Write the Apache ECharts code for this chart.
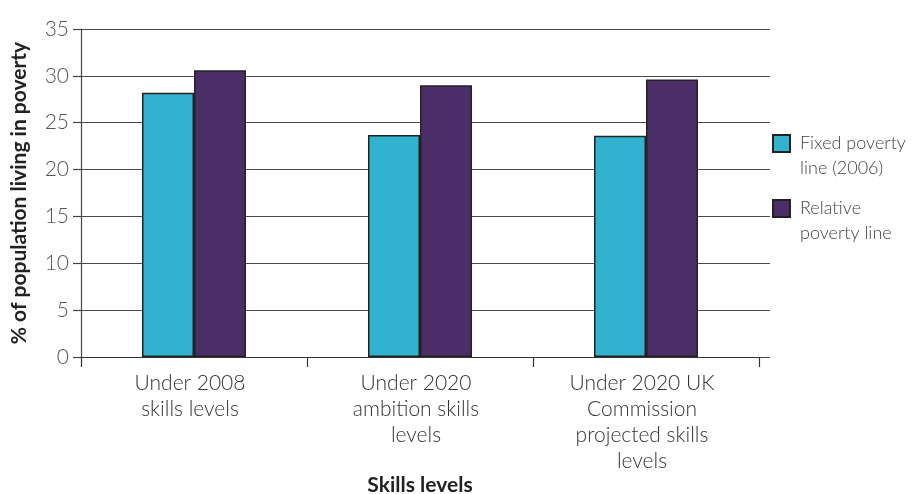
<!DOCTYPE html>
<html>
<head>
<meta charset="utf-8">
<script src="https://cdn.jsdelivr.net/npm/echarts@6/dist/echarts.min.js"></script>
<style>
  html, body { margin: 0; padding: 0; background: #ffffff; }
  #chart { width: 923px; height: 494px; }
</style>
</head>
<body>
<div id="chart"></div>
<script>
// Skill-level scenarios on the category axis
const categories = [
  'Under 2008\nskills levels',
  'Under 2020\nambition skills\nlevels',
  'Under 2020 UK\nCommission\nprojected skills\nlevels'
];
// % of population living in poverty under each poverty line
const fixedPovertyLine = [28.2, 23.7, 23.6];
const relativePovertyLine = [30.6, 29.0, 29.6];
const seriesNames = ['Fixed poverty\nline (2006)', 'Relative\npoverty line'];
// Value axis range
const yMin = 0;
const yMax = 35;
const yStep = 5;

const FONT = 'Lato, "Open Sans", sans-serif';
const chart = echarts.init(document.getElementById('chart'), null, { renderer: 'canvas' });

chart.setOption({
  animation: false,
  backgroundColor: '#ffffff',
  textStyle: { fontFamily: FONT },
  legend: {
    orient: 'vertical',
    left: 767,
    top: 101,
    itemWidth: 17,
    itemHeight: 17,
    itemGap: -10,
    icon: 'rect',
    selectedMode: false,
    data: seriesNames,
    // leading blank line keeps the first text line level with the swatch
    formatter: function (name) { return '\n' + name; },
    textStyle: {
      fontFamily: FONT,
      fontWeight: 300,
      fontSize: 18,
      color: '#444444',
      lineHeight: 25,
      padding: [0, 0, 0, 5]
    }
  },
  grid: [
    // frame carrying the value scale and the full-width gridlines
    { left: 81, right: 153, top: 29, bottom: 137, outerBoundsMode: 'none' },
    // frame carrying the bars and the category axis
    { left: 81, right: 164, top: 29, bottom: 137, outerBoundsMode: 'none' }
  ],
  xAxis: [
    { gridIndex: 0, type: 'value', min: 0, max: 1, show: false },
    {
      gridIndex: 1,
      type: 'category',
      data: categories,
      axisLine: { show: true, lineStyle: { color: '#333333', width: 1.2 } },
      axisTick: { show: true, length: 10, lineStyle: { color: '#333333', width: 1.2 } },
      axisLabel: {
        interval: 0,
        margin: 13,
        fontFamily: FONT,
        fontWeight: 300,
        fontSize: 21,
        lineHeight: 26,
        color: '#333333',
        padding: [0, 8, 0, 0]
      },
      name: 'Skills levels',
      nameLocation: 'middle',
      nameGap: 118,
      nameMoveOverlap: false,
      nameTextStyle: { fontFamily: FONT, fontWeight: 'bold', fontSize: 21, color: '#222222' }
    }
  ],
  yAxis: [
    {
      gridIndex: 0,
      type: 'value',
      min: yMin,
      max: yMax,
      interval: yStep,
      axisLine: { show: true, lineStyle: { color: '#444444', width: 1.2 } },
      axisTick: { show: true, length: 8, lineStyle: { color: '#444444', width: 1.2 } },
      splitLine: { show: true, lineStyle: { color: '#4a4a4a', width: 1.2 } },
      axisLabel: {
        margin: 12,
        fontFamily: FONT,
        fontWeight: 300,
        fontSize: 21,
        color: '#555555'
      },
      name: '% of population living in poverty',
      nameLocation: 'middle',
      nameGap: 51,
      nameRotate: 90,
      nameTextStyle: { fontFamily: FONT, fontWeight: 'bold', fontSize: 21, color: '#222222' }
    },
    { gridIndex: 1, type: 'value', min: yMin, max: yMax, interval: yStep, show: false }
  ],
  series: [
    {
      name: seriesNames[0],
      type: 'bar',
      xAxisIndex: 1,
      yAxisIndex: 1,
      data: fixedPovertyLine,
      barWidth: 52,
      barGap: '0%',
      itemStyle: { color: '#31b3cf', borderColor: '#222222', borderWidth: 1.5 }
    },
    {
      name: seriesNames[1],
      type: 'bar',
      xAxisIndex: 1,
      yAxisIndex: 1,
      data: relativePovertyLine,
      barWidth: 52,
      barGap: '0%',
      itemStyle: { color: '#4b2d68', borderColor: '#222222', borderWidth: 1.5 }
    }
  ]
});
</script>
</body>
</html>
